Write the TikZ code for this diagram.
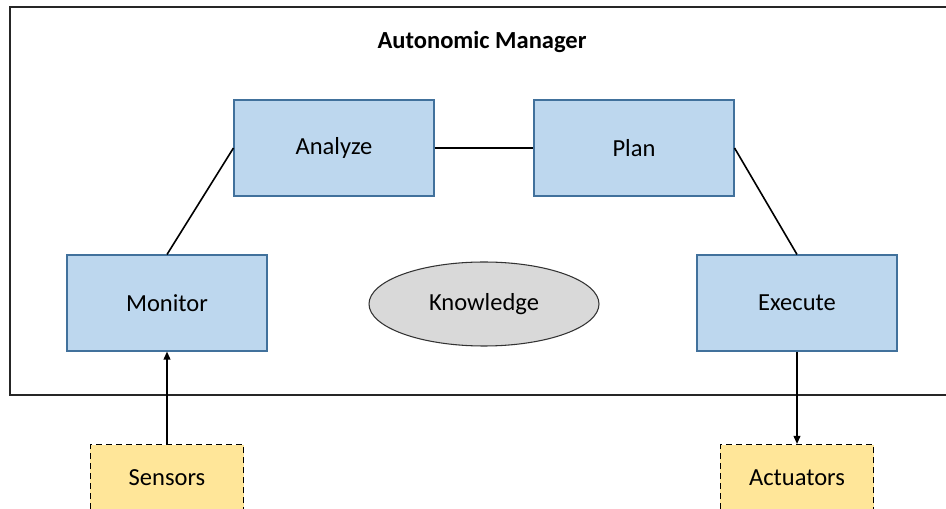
\documentclass[tikz,border=0pt]{standalone}
\usepackage{fontspec}
\usepackage{xcolor}
\usepackage{tikz}
\usetikzlibrary{shapes.geometric,arrows.meta}
\setmainfont{Carlito}
\definecolor{boxfill}{HTML}{BDD7EE}
\definecolor{boxline}{HTML}{41719C}
\definecolor{devfill}{HTML}{FFE699}
\definecolor{kbfill}{HTML}{D9D9D9}

\begin{document}
\begin{tikzpicture}[x=0.75pt,y=-0.75pt,
		every node/.style={font=\fontsize{18.4}{22}\selectfont},
		phase/.style={fill=boxfill,draw=boxline,line width=0.8pt,minimum width=150pt,minimum height=72pt},
		device/.style={anchor=north,fill=devfill,draw=black,dash pattern=on 4.5pt off 3pt,line width=0.8pt,minimum width=115pt,inner ysep=0pt,text height=31pt,text depth=25pt},
		link/.style={line width=1.2pt}]
			\useasboundingbox (0,0) rectangle (946,509);
			\coordinate (m) at (167,303);
			\coordinate (a) at (334,148);
			\coordinate (p) at (634,148);
			\coordinate (e) at (797,303);
			\coordinate (k) at (484,304);
			\coordinate (s) at (167,444);
			\coordinate (act) at (797,444);
			
			\draw[line width=1.4pt,color=black!85] (10,7) rectangle (960,395);
			\node (title) at (482,42) {\textbf{Autonomic Manager}};
			
			\node (monitor) at (m) [phase] {Monitor};
			\node (analyze) at (a) [phase] {Analyze};
			\node (plan) at (p) [phase] {Plan};
			\node (execute) at (e) [phase] {Execute};
			\node (know) at (k) [ellipse,fill=kbfill,draw=black!80,line width=0.8pt,minimum width=172.5pt,minimum height=63pt] {Knowledge};
			\node (sensors) at (s) [device] {Sensors};
			\node (actuators) at (act) [device] {Actuators};
			
			\draw[link] (monitor.north) -- (analyze.west);
			\draw[line width=2pt] (analyze.east) -- (plan.west);
			\draw[link] (plan.east) -- (execute.north);
			\draw[link,-{Triangle[length=6pt,width=5pt]}] (sensors.north) -- (monitor.south);
			\draw[link,-{Triangle[length=6pt,width=5pt]}] (execute.south) -- (actuators.north);
		\end{tikzpicture}
\end{document}
